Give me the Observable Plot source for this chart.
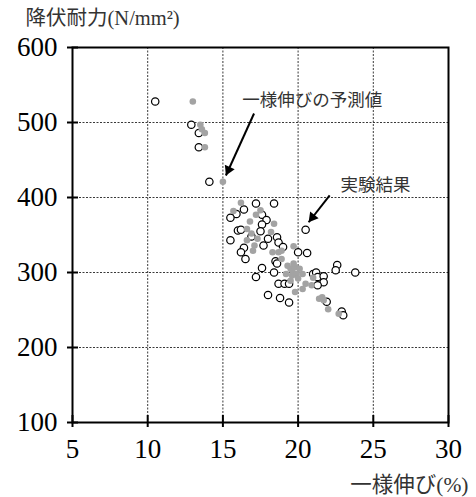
<!DOCTYPE html>
<html>
<head>
<meta charset="utf-8">
<script src="https://cdn.jsdelivr.net/npm/d3@7"></script>
<script src="https://cdn.jsdelivr.net/npm/@observablehq/plot@0.6"></script>
<style>
  body { margin: 0; background: #fff; }
  svg text { font-family: "Liberation Serif", "DejaVu Serif", serif, "Noto Sans CJK JP"; }
</style>
</head>
<body>
<div id="chart"></div>
<script>
// Axis ticks
const xTicks = [5, 10, 15, 20, 25, 30];
const yTicks = [100, 200, 300, 400, 500, 600];

// Text
const titleText = "降伏耐力(N/mm²)";
const xTitleText = "一様伸び(%)";

// Test results (open circles): uniform elongation (%) and yield strength (N/mm²)
const expX = [10.5, 12.9, 13.4, 13.4, 14.1, 20.5, 17.2, 18.4, 16.4, 15.9,
              15.5, 17.6, 17.9, 17.6, 16.0, 16.2, 16.9, 17.5, 18.0, 18.6,
              18.7, 15.5, 16.4, 16.2, 16.5, 17.7, 19.0, 20.0, 20.6, 18.5,
              18.6, 17.6, 18.4, 17.2, 18.7, 19.1, 19.4, 18.0, 18.8, 19.4,
              21.0, 21.2, 21.3, 21.7, 21.7, 21.3, 22.6, 22.5, 23.8, 21.9,
              22.9, 23.0];
const expY = [528, 497, 486, 467, 421, 357, 392, 392, 384, 378,
              373, 377, 370, 364, 356, 357, 348, 355, 345, 347,
              340, 343, 333, 327, 318, 336, 334, 327, 326, 315,
              312, 306, 300, 294, 285, 285, 285, 270, 266, 260,
              298, 300, 294, 295, 287, 283, 310, 303, 300, 261,
              248, 243];

// Predicted uniform elongation (gray dots)
const predX = [13.0, 13.5, 13.6, 13.8, 13.8, 15.0, 16.2, 15.7, 16.8, 17.2,
               17.5, 18.4, 16.6, 18.2, 16.9, 17.3, 16.6, 17.1, 17.0, 18.3,
               18.9, 19.7, 18.9, 18.7, 19.3, 19.5, 19.6, 19.8, 19.9, 19.6,
               20.0, 19.5, 20.3, 20.5, 20.3, 19.8, 21.0, 20.9, 21.4, 21.6,
               21.7, 22.0, 22.7, 19.2, 19.7, 20.1];
const predY = [528, 497, 491, 486, 467, 421, 393, 382, 368, 377,
               383, 365, 358, 354, 352, 345, 343, 336, 329, 327,
               329, 335, 318, 327, 309, 305, 303, 307, 298, 296,
               292, 289, 298, 285, 278, 274, 293, 283, 265, 267,
               263, 251, 245, 298, 312, 305];

// Callouts
const noteText = ["一様伸びの予測値", "実験結果"];
const noteX = [16.28, 22.82];
const noteY = [529, 416];
const arrowX1 = [17.07, 22.1];
const arrowY1 = [512, 402.7];
const arrowX2 = [15.2, 20.7];
const arrowY2 = [429.3, 367];

const W = 476, H = 497;
const mLeft = 72, mRight = 28, mTop = 47, mBottom = 75;
const frameW = W - mLeft - mRight;
const frameH = H - mTop - mBottom;
const xDomain = [5, 30], yDomain = [100, 600];

const expData = expX.map((x, i) => ({x, y: expY[i]}));
const predData = predX.map((x, i) => ({x, y: predY[i]}));
const notes = noteText.map((t, i) => ({t, x: noteX[i], y: noteY[i]}));
const arrows = arrowX1.map((x1, i) => ({x1, y1: arrowY1[i], x2: arrowX2[i], y2: arrowY2[i]}));

// screen-space scales used to orient the arrowheads
const sx = Plot.scale({x: {domain: xDomain, range: [mLeft, W - mRight]}});
const sy = Plot.scale({y: {domain: yDomain, range: [H - mBottom, mTop]}});
const headBack = 6.2;
const headMarks = arrows.map(a => {
  const vx = sx.apply(a.x2) - sx.apply(a.x1);
  const vy = sy.apply(a.y2) - sy.apply(a.y1);
  const len = Math.hypot(vx, vy);
  const ux = vx / len, uy = vy / len;
  return Plot.dot([a], {
    x: "x2", y: "y2", symbol: "triangle", r: 4, fill: "black", stroke: "none",
    rotate: Math.atan2(ux, -uy) * 180 / Math.PI,
    dx: -headBack * ux, dy: -headBack * uy
  });
});

const gridStyle = {stroke: "#222", strokeOpacity: 1, strokeWidth: 0.9, strokeDasharray: "2,1.5"};
const tickFont = {fontSize: 27, fontVariant: "normal", fill: "#000"};

const chart = Plot.plot({
  width: W,
  height: H,
  marginLeft: mLeft,
  marginRight: mRight,
  marginTop: mTop,
  marginBottom: mBottom,
  style: {background: "#fff", color: "#000"},
  x: {domain: xDomain},
  y: {domain: yDomain},
  marks: [
    Plot.gridX(xTicks, gridStyle),
    Plot.gridY(yTicks, gridStyle),
    Plot.dot(expData, {x: "x", y: "y", r: 3.7, stroke: "black", strokeWidth: 1.2, fill: "white"}),
    Plot.dot(predData, {x: "x", y: "y", r: 3.3, fill: "#a3a3a3", stroke: "none"}),
    Plot.link(arrows, {x1: "x1", y1: "y1", x2: "x2", y2: "y2", stroke: "black", strokeWidth: 2}),
    ...headMarks,
    Plot.text(notes, {x: "x", y: "y", text: "t", textAnchor: "start", lineAnchor: "middle", fontSize: 17.5, fill: "#333"}),
    Plot.frame({stroke: "black", strokeWidth: 2}),
    // inward tick marks
    Plot.ruleY(yTicks, {stroke: "black", strokeWidth: 2, insetRight: frameW - 6}),
    Plot.ruleX(xTicks, {stroke: "black", strokeWidth: 2, insetTop: frameH - 7}),
    Plot.axisY({ticks: yTicks, tickSize: 5, tickPadding: 10, strokeWidth: 2, label: null, tickFormat: d => String(d), ...tickFont}),
    Plot.axisX({ticks: xTicks, tickSize: 5, tickPadding: 11, strokeWidth: 2, label: null, tickFormat: d => String(d), ...tickFont}),
    Plot.text([titleText], {text: d => d, frameAnchor: "top-left", dx: -47, dy: -29.5, textAnchor: "start", lineAnchor: "middle", fontSize: 20.5, fill: "#333"}),
    Plot.text([xTitleText], {text: d => d, frameAnchor: "bottom-right", dx: 20, dy: 63, textAnchor: "end", lineAnchor: "middle", fontSize: 21.5, fill: "#333"})
  ]
});

document.getElementById("chart").appendChild(chart);
</script>
</body>
</html>
